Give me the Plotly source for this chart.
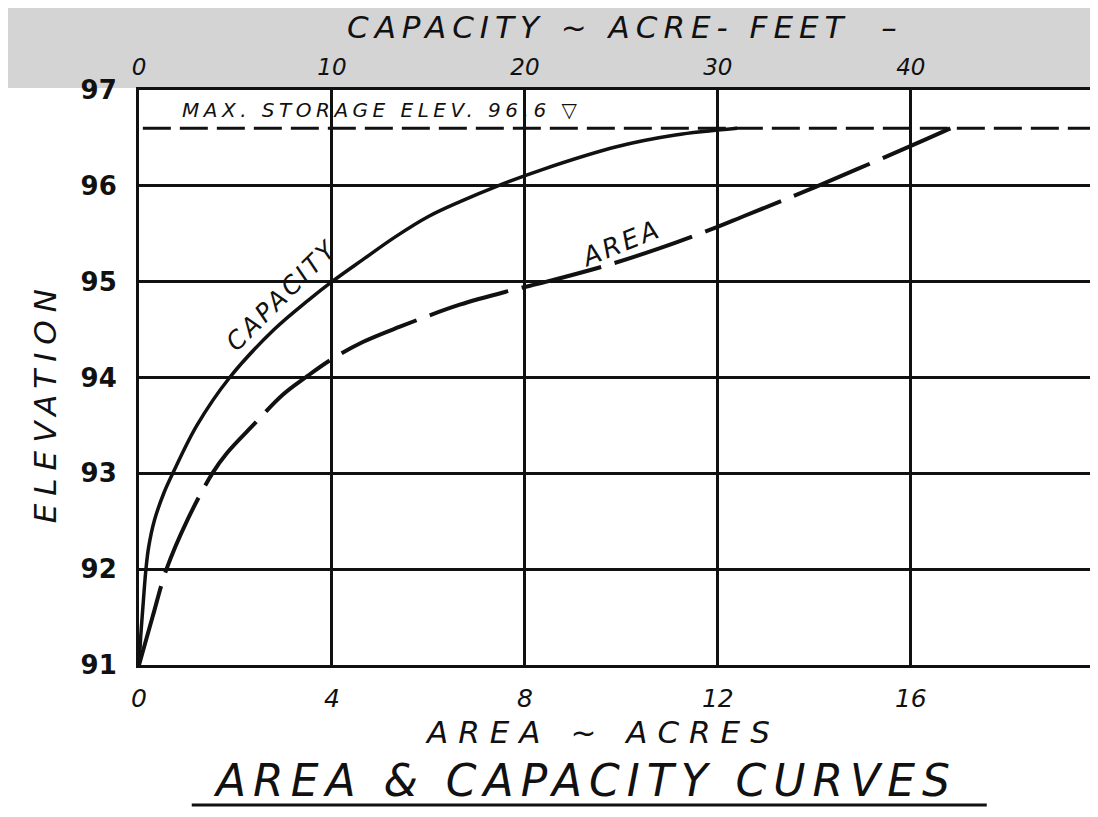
import plotly.graph_objects as go

# ---- data ----
area_elev = [91.0, 91.5, 92.0, 92.51, 93.0, 93.21, 93.51, 93.82, 94.0, 94.18, 94.37, 94.53,
             94.76, 94.91, 95.0, 95.18, 95.35, 95.54, 95.68, 95.99, 96.43, 96.6]
area_acres = [0.0, 0.28, 0.57, 1.0, 1.52, 1.82, 2.38, 2.98, 3.45, 3.96, 4.64, 5.41,
              6.65, 7.72, 8.45, 9.76, 10.8, 11.83, 12.52, 14.03, 16.06, 16.82]

capacity_elev = [91.0, 91.3, 91.6, 92.0, 92.23, 92.51, 92.8, 93.0, 93.5, 94.0, 94.5, 94.81,
                 95.0, 95.23, 95.47, 95.68, 95.84, 96.0, 96.17, 96.41, 96.53, 96.6]
capacity_acft = [0.0, 0.09, 0.2, 0.36, 0.5, 0.8, 1.3, 1.75, 3.0, 4.7, 7.0, 8.8,
                 10.0, 11.6, 13.3, 15.0, 16.7, 18.6, 20.9, 24.8, 27.8, 31.0]

max_storage_elev = 96.6

area_ticks = [0, 4, 8, 12, 16]
capacity_ticks = [0, 10, 20, 30, 40]
elev_ticks = [91, 92, 93, 94, 95, 96, 97]

AREA_MAX = 19.88           # visible extent of area axis (acres)
CAP_PER_AREA = 2.5         # 10 acre-ft grid = 4 acre grid
INK = "#111111"
FONT = "DejaVu Sans"


def spaced(txt, px):
    return f'<span style="letter-spacing:{px}px">{txt}</span>'


fig = go.Figure()

fig.add_trace(go.Scatter(
    x=area_acres, y=area_elev, mode="lines", xaxis="x", yaxis="y",
    line=dict(color=INK, width=4, dash="82px,14px", shape="spline", smoothing=1.0),
    showlegend=False, hoverinfo="skip"))

fig.add_trace(go.Scatter(
    x=capacity_acft, y=capacity_elev, mode="lines", xaxis="x2", yaxis="y",
    line=dict(color=INK, width=3.5, shape="spline", smoothing=1.0),
    showlegend=False, hoverinfo="skip"))

shapes = [
    # scanned gray band at top
    dict(type="rect", xref="paper", yref="paper", x0=-0.2, x1=1.05, y0=1.0035, y1=1.2,
         fillcolor="#d4d4d4", line=dict(width=0), layer="below"),
    # max storage elevation dashed line
    dict(type="line", xref="paper", yref="y", x0=0.004, x1=1.0,
         y0=max_storage_elev, y1=max_storage_elev,
         line=dict(color=INK, width=3, dash="28px,9px")),
    # underline of the title
    dict(type="line", xref="paper", yref="paper", x0=0.055, x1=0.884, y0=-0.2435, y1=-0.2435,
         line=dict(color=INK, width=3)),
]

it = dict(family=FONT, color=INK, style="italic")

annotations = [
    dict(text=spaced("CAPACITY ~ ACRE- FEET  –", 6), xref="paper", yref="paper",
         x=0.2148, y=1.1096, xanchor="left", yanchor="middle", showarrow=False,
         font=dict(size=31, **it)),
    dict(text=spaced("ELEVATION", 8), xref="paper", yref="paper", x=-0.098, y=0.457,
         xanchor="center", yanchor="middle", textangle=-90, showarrow=False,
         font=dict(size=31, **it)),
    dict(text=spaced("AREA ~ ACRES", 10), xref="paper", yref="paper", x=0.483, y=-0.1165,
         xanchor="center", yanchor="middle", showarrow=False, font=dict(size=31, **it)),
    dict(text=spaced("AREA & CAPACITY CURVES", 7), xref="paper", yref="paper", x=0.465, y=-0.2,
         xanchor="center", yanchor="middle", showarrow=False, font=dict(size=44, **it)),
    dict(text=spaced("MAX. STORAGE ELEV. 96.6 ▽", 4.5), xref="x", yref="y", x=0.85, y=96.79,
         xanchor="left", yanchor="middle", showarrow=False, font=dict(size=20, **it)),
    dict(text=spaced("CAPACITY", 3), xref="x", yref="y", x=2.95, y=94.86, textangle=-45,
         xanchor="center", yanchor="middle", showarrow=False, font=dict(size=25, **it)),
    dict(text=spaced("AREA", 3), xref="x", yref="y", x=10.0, y=95.40, textangle=-22,
         xanchor="center", yanchor="middle", showarrow=False, font=dict(size=26, **it)),
]

fig.update_layout(
    width=1090, height=809,
    margin=dict(l=131, r=0, t=82, b=152),
    paper_bgcolor="white", plot_bgcolor="white",
    showlegend=False,
    shapes=shapes, annotations=annotations,
    xaxis=dict(range=[0, AREA_MAX], tickvals=area_ticks, ticktext=[str(v) for v in area_ticks],
               showgrid=True, gridcolor=INK, gridwidth=2.5, zeroline=False,
               showline=True, linecolor=INK, linewidth=3, ticks="",
               ticklabelstandoff=9, tickfont=dict(size=25, **it), fixedrange=True),
    xaxis2=dict(range=[0, AREA_MAX * CAP_PER_AREA], tickvals=capacity_ticks,
                ticktext=[str(v) for v in capacity_ticks], overlaying="x", side="top",
                showgrid=False, zeroline=False, showline=True, linecolor=INK, linewidth=3,
                ticks="", ticklabelstandoff=3, tickfont=dict(size=23, **it), fixedrange=True),
    yaxis=dict(range=[91, 97], tickvals=elev_ticks, ticktext=[str(v) for v in elev_ticks],
               showgrid=True, gridcolor=INK, gridwidth=2.5, zeroline=False,
               showline=True, linecolor=INK, linewidth=3, ticks="",
               ticklabelstandoff=14, tickfont=dict(size=26, family=FONT, color=INK, weight="bold"),
               fixedrange=True),
)

fig.write_html("out.html")
